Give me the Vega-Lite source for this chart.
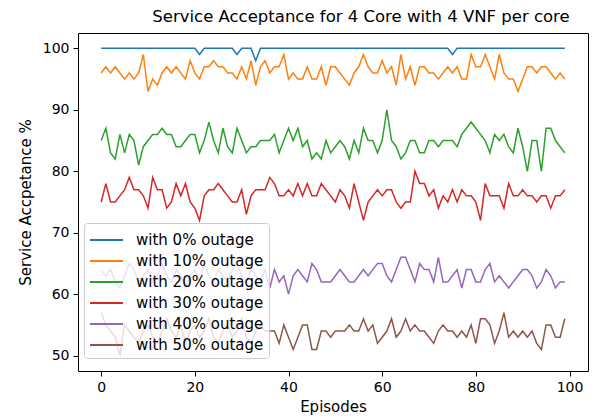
{
"$schema": "https://vega.github.io/schema/vega-lite/v6.json",
"width": 510, "height": 338,
"autosize": {"type": "none"},
"padding": {"left": 78, "top": 33, "right": 12, "bottom": 48},
"background": "white",
"title": {"text": "Service Acceptance for 4 Core with 4 VNF per core", "font": "DejaVu Sans", "fontSize": 16.5, "fontWeight": "normal", "color": "black", "anchor": "middle", "offset": 8, "dx": 28},
"config": {
  "view": {"stroke": "black", "strokeWidth": 1},
  "axis": {"grid": false, "domain": false, "labelFont": "DejaVu Sans", "labelFontSize": 14, "labelColor": "black", "tickColor": "black", "tickSize": 5, "tickWidth": 1, "titleFont": "DejaVu Sans", "titleFontSize": 15, "titleFontWeight": "normal", "titleColor": "black", "labelPadding": 4}
},
"data": {"values": [
{"ep":0,"o0":100,"o10":96,"o20":85,"o30":75,"o40":64,"o50":57},
{"ep":1,"o0":100,"o10":97,"o20":87,"o30":78,"o40":63,"o50":55},
{"ep":2,"o0":100,"o10":96,"o20":83,"o30":75,"o40":64,"o50":54},
{"ep":3,"o0":100,"o10":97,"o20":82,"o30":75,"o40":62,"o50":53},
{"ep":4,"o0":100,"o10":96,"o20":86,"o30":76,"o40":61,"o50":50},
{"ep":5,"o0":100,"o10":95,"o20":83,"o30":77,"o40":63,"o50":55},
{"ep":6,"o0":100,"o10":96,"o20":86,"o30":79,"o40":65,"o50":54},
{"ep":7,"o0":100,"o10":95,"o20":85,"o30":77,"o40":64,"o50":53},
{"ep":8,"o0":100,"o10":96,"o20":81,"o30":77,"o40":62,"o50":52},
{"ep":9,"o0":100,"o10":99,"o20":84,"o30":76,"o40":63,"o50":54},
{"ep":10,"o0":100,"o10":93,"o20":85,"o30":74,"o40":64,"o50":55},
{"ep":11,"o0":100,"o10":95,"o20":86,"o30":79,"o40":62,"o50":53},
{"ep":12,"o0":100,"o10":94,"o20":86,"o30":77,"o40":63,"o50":52},
{"ep":13,"o0":100,"o10":96,"o20":87,"o30":77,"o40":65,"o50":54},
{"ep":14,"o0":100,"o10":97,"o20":86,"o30":74,"o40":63,"o50":56},
{"ep":15,"o0":100,"o10":96,"o20":86,"o30":75,"o40":62,"o50":54},
{"ep":16,"o0":100,"o10":97,"o20":84,"o30":78,"o40":64,"o50":53},
{"ep":17,"o0":100,"o10":96,"o20":84,"o30":76,"o40":63,"o50":55},
{"ep":18,"o0":100,"o10":95,"o20":85,"o30":78,"o40":61,"o50":52},
{"ep":19,"o0":100,"o10":98,"o20":86,"o30":75,"o40":63,"o50":54},
{"ep":20,"o0":100,"o10":96,"o20":86,"o30":74,"o40":64,"o50":55},
{"ep":21,"o0":99,"o10":95,"o20":83,"o30":72,"o40":62,"o50":53},
{"ep":22,"o0":100,"o10":97,"o20":85,"o30":76,"o40":65,"o50":54},
{"ep":23,"o0":100,"o10":97,"o20":88,"o30":77,"o40":63,"o50":56},
{"ep":24,"o0":100,"o10":98,"o20":85,"o30":77,"o40":62,"o50":53},
{"ep":25,"o0":100,"o10":97,"o20":83,"o30":78,"o40":64,"o50":52},
{"ep":26,"o0":100,"o10":97,"o20":87,"o30":77,"o40":63,"o50":54},
{"ep":27,"o0":100,"o10":96,"o20":84,"o30":76,"o40":62,"o50":55},
{"ep":28,"o0":100,"o10":96,"o20":83,"o30":75,"o40":64,"o50":53},
{"ep":29,"o0":99,"o10":95,"o20":87,"o30":75,"o40":65,"o50":54},
{"ep":30,"o0":100,"o10":97,"o20":85,"o30":77,"o40":63,"o50":56},
{"ep":31,"o0":100,"o10":95,"o20":83,"o30":73,"o40":62,"o50":53},
{"ep":32,"o0":100,"o10":98,"o20":84,"o30":76,"o40":64,"o50":52},
{"ep":33,"o0":98,"o10":94,"o20":84,"o30":77,"o40":63,"o50":54},
{"ep":34,"o0":100,"o10":97,"o20":85,"o30":77,"o40":62,"o50":55},
{"ep":35,"o0":100,"o10":98,"o20":85,"o30":77,"o40":64,"o50":54},
{"ep":36,"o0":100,"o10":96,"o20":85,"o30":79,"o40":61,"o50":54},
{"ep":37,"o0":100,"o10":97,"o20":86,"o30":78,"o40":64,"o50":54},
{"ep":38,"o0":100,"o10":97,"o20":83,"o30":76,"o40":62,"o50":52},
{"ep":39,"o0":100,"o10":99,"o20":85,"o30":76,"o40":63,"o50":55},
{"ep":40,"o0":100,"o10":95,"o20":87,"o30":77,"o40":60,"o50":53},
{"ep":41,"o0":100,"o10":96,"o20":85,"o30":76,"o40":63,"o50":51},
{"ep":42,"o0":100,"o10":95,"o20":87,"o30":78,"o40":64,"o50":53},
{"ep":43,"o0":100,"o10":95,"o20":84,"o30":76,"o40":63,"o50":55},
{"ep":44,"o0":100,"o10":97,"o20":85,"o30":78,"o40":62,"o50":55},
{"ep":45,"o0":100,"o10":95,"o20":82,"o30":76,"o40":65,"o50":51},
{"ep":46,"o0":100,"o10":95,"o20":83,"o30":76,"o40":64,"o50":51},
{"ep":47,"o0":100,"o10":97,"o20":82,"o30":78,"o40":62,"o50":54},
{"ep":48,"o0":100,"o10":94,"o20":85,"o30":77,"o40":62,"o50":54},
{"ep":49,"o0":100,"o10":97,"o20":83,"o30":76,"o40":62,"o50":53},
{"ep":50,"o0":100,"o10":97,"o20":84,"o30":75,"o40":63,"o50":54},
{"ep":51,"o0":100,"o10":96,"o20":85,"o30":77,"o40":64,"o50":54},
{"ep":52,"o0":100,"o10":95,"o20":84,"o30":76,"o40":63,"o50":54},
{"ep":53,"o0":100,"o10":94,"o20":82,"o30":74,"o40":62,"o50":55},
{"ep":54,"o0":100,"o10":96,"o20":85,"o30":78,"o40":62,"o50":54},
{"ep":55,"o0":100,"o10":97,"o20":83,"o30":75,"o40":63,"o50":54},
{"ep":56,"o0":100,"o10":99,"o20":87,"o30":72,"o40":64,"o50":56},
{"ep":57,"o0":100,"o10":97,"o20":85,"o30":75,"o40":63,"o50":54},
{"ep":58,"o0":100,"o10":96,"o20":85,"o30":76,"o40":64,"o50":55},
{"ep":59,"o0":100,"o10":96,"o20":83,"o30":77,"o40":65,"o50":52},
{"ep":60,"o0":100,"o10":98,"o20":85,"o30":76,"o40":65,"o50":53},
{"ep":61,"o0":100,"o10":96,"o20":90,"o30":77,"o40":63,"o50":54},
{"ep":62,"o0":100,"o10":97,"o20":85,"o30":77,"o40":62,"o50":56},
{"ep":63,"o0":100,"o10":94,"o20":84,"o30":75,"o40":64,"o50":53},
{"ep":64,"o0":100,"o10":99,"o20":82,"o30":74,"o40":66,"o50":54},
{"ep":65,"o0":100,"o10":95,"o20":83,"o30":75,"o40":66,"o50":56},
{"ep":66,"o0":100,"o10":97,"o20":85,"o30":75,"o40":64,"o50":54},
{"ep":67,"o0":100,"o10":94,"o20":85,"o30":80,"o40":62,"o50":55},
{"ep":68,"o0":100,"o10":97,"o20":83,"o30":78,"o40":65,"o50":54},
{"ep":69,"o0":100,"o10":97,"o20":83,"o30":78,"o40":64,"o50":54},
{"ep":70,"o0":100,"o10":96,"o20":85,"o30":76,"o40":64,"o50":53},
{"ep":71,"o0":100,"o10":96,"o20":85,"o30":77,"o40":62,"o50":52},
{"ep":72,"o0":100,"o10":95,"o20":84,"o30":74,"o40":66,"o50":54},
{"ep":73,"o0":100,"o10":96,"o20":85,"o30":76,"o40":62,"o50":55},
{"ep":74,"o0":100,"o10":97,"o20":85,"o30":75,"o40":62,"o50":54},
{"ep":75,"o0":99,"o10":96,"o20":85,"o30":77,"o40":63,"o50":54},
{"ep":76,"o0":100,"o10":97,"o20":84,"o30":75,"o40":64,"o50":53},
{"ep":77,"o0":100,"o10":95,"o20":86,"o30":77,"o40":61,"o50":54},
{"ep":78,"o0":100,"o10":95,"o20":87,"o30":76,"o40":64,"o50":53},
{"ep":79,"o0":100,"o10":99,"o20":88,"o30":76,"o40":64,"o50":55},
{"ep":80,"o0":100,"o10":97,"o20":87,"o30":75,"o40":62,"o50":52},
{"ep":81,"o0":100,"o10":97,"o20":86,"o30":72,"o40":62,"o50":56},
{"ep":82,"o0":100,"o10":99,"o20":85,"o30":78,"o40":64,"o50":56},
{"ep":83,"o0":100,"o10":97,"o20":83,"o30":76,"o40":65,"o50":55},
{"ep":84,"o0":100,"o10":95,"o20":86,"o30":76,"o40":62,"o50":52},
{"ep":85,"o0":100,"o10":99,"o20":85,"o30":76,"o40":63,"o50":54},
{"ep":86,"o0":100,"o10":96,"o20":86,"o30":74,"o40":62,"o50":57},
{"ep":87,"o0":100,"o10":95,"o20":84,"o30":78,"o40":61,"o50":53},
{"ep":88,"o0":100,"o10":95,"o20":83,"o30":76,"o40":62,"o50":54},
{"ep":89,"o0":100,"o10":93,"o20":87,"o30":76,"o40":63,"o50":53},
{"ep":90,"o0":100,"o10":95,"o20":84,"o30":77,"o40":64,"o50":54},
{"ep":91,"o0":100,"o10":97,"o20":80,"o30":76,"o40":64,"o50":53},
{"ep":92,"o0":100,"o10":97,"o20":85,"o30":76,"o40":63,"o50":54},
{"ep":93,"o0":100,"o10":96,"o20":85,"o30":75,"o40":61,"o50":52},
{"ep":94,"o0":100,"o10":97,"o20":80,"o30":76,"o40":62,"o50":51},
{"ep":95,"o0":100,"o10":97,"o20":87,"o30":76,"o40":64,"o50":55},
{"ep":96,"o0":100,"o10":96,"o20":87,"o30":74,"o40":63,"o50":55},
{"ep":97,"o0":100,"o10":95,"o20":85,"o30":76,"o40":61,"o50":53},
{"ep":98,"o0":100,"o10":96,"o20":84,"o30":76,"o40":62,"o50":53},
{"ep":99,"o0":100,"o10":95,"o20":83,"o30":77,"o40":62,"o50":56}
]},
"transform": [{"fold": ["o0","o10","o20","o30","o40","o50"], "as": ["series","value"]}],
"mark": {"type": "line", "strokeWidth": 1.5},
"encoding": {
  "x": {"field": "ep", "type": "quantitative", "scale": {"domain": [-4.95, 103.95], "nice": false, "zero": false}, "axis": {"values": [0,20,40,60,80,100], "title": "Episodes", "titlePadding": 5}},
  "y": {"field": "value", "type": "quantitative", "scale": {"domain": [47.5, 102.5], "nice": false, "zero": false}, "axis": {"values": [50,60,70,80,90,100], "title": "Service Accpetance %", "titlePadding": 9}},
  "color": {"field": "series", "type": "nominal",
    "scale": {"domain": ["o0","o10","o20","o30","o40","o50"], "range": ["#1f77b4","#ff7f0e","#2ca02c","#d62728","#9467bd","#8c564b"]},
    "legend": {"title": null, "orient": "none", "legendX": 6, "legendY": 190, "labelExpr": "'with ' + replace(datum.label, 'o', '') + '% outage'", "symbolType": "M-1,0H2", "symbolStrokeWidth": 2, "symbolSize": 484, "rowPadding": 1, "padding": 5, "labelOffset": 23, "labelFont": "DejaVu Sans", "labelFontSize": 15, "labelColor": "black", "fillColor": "rgba(255,255,255,0.8)", "strokeColor": "#cccccc", "cornerRadius": 3}
  }
}
}
